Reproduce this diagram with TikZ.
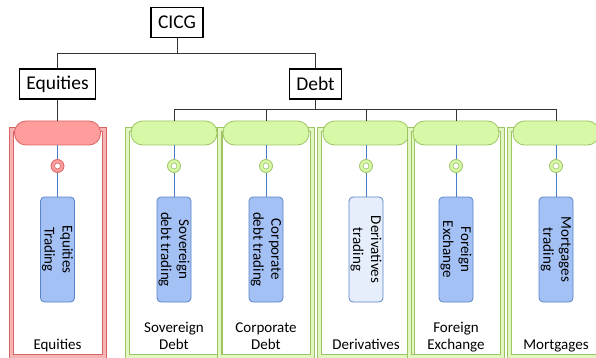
\documentclass[tikz,border=0pt]{standalone}
\usepackage{fontspec}
\setmainfont{Carlito}

\definecolor{redPill}{HTML}{FF9C9C}
\definecolor{redLine}{HTML}{D96464}
\definecolor{redFill}{HTML}{F6B4B4}
\definecolor{greenPill}{HTML}{D7F8A6}
\definecolor{greenLine}{HTML}{9DC463}
\definecolor{greenFill}{HTML}{E1F6C0}
\definecolor{tradeBlue}{HTML}{A4C1F5}
\definecolor{tradePale}{HTML}{E6EEFB}
\definecolor{tradeLine}{HTML}{5A83C8}
\definecolor{feedBlue}{HTML}{4A7CC4}

\begin{document}
\begin{tikzpicture}[x=1pt,y=-1pt,
  topbox/.style={draw, line width=1.4pt, fill=white, inner xsep=7pt,
    minimum height=30pt, font=\fontsize{19.5}{22}\selectfont},
  wire/.style={line width=.8pt, black!80},
  colframe/.style={line width=1pt, double distance=3pt},
  pill/.style={draw, line width=.8pt, rounded corners=11.5pt,
    minimum width=86pt, minimum height=24pt, inner sep=0pt},
  ring/.style={circle, draw, line width=.8pt, minimum size=13pt, inner sep=0pt},
  hole/.style={circle, draw, line width=.6pt, fill=white, minimum size=6pt, inner sep=0pt},
  feed/.style={line width=.7pt, feedBlue},
  tradebox/.style={draw=tradeLine, line width=.8pt, rounded corners=4pt, rotate=-90,
    minimum width=105pt, minimum height=34pt, inner sep=0pt, align=center,
    font=\fontsize{15}{18}\selectfont},
  lab/.style={anchor=base, align=center, inner sep=0pt,
    font=\fontsize{15}{17}\selectfont}]

\useasboundingbox (0,0) rectangle (596,358);

% top of the tree
\node[topbox] (cicg) at (177,22.5) {CICG};
\node[topbox] (equ) at (57.5,84) {Equities};
\node[topbox] (debt) at (315.5,84) {Debt};

\coordinate (topbus) at (177,53);
\coordinate (debtbus) at (315.5,109);
\draw[wire] (cicg.south) -- (topbus) -| (equ.north);
\draw[wire] (topbus) -| (debt.north);

% one column per desk
\foreach \n/\cx/\kind/\boxfill/\boxtext/\bottom in {
  equ/57.5/red/tradeBlue/{Equities\\Trading}/Equities,
  sov/174/green/tradeBlue/{Sovereign\\debt trading}/{Sovereign\\Debt},
  corp/266/green/tradeBlue/{Corporate\\debt trading}/{Corporate\\Debt},
  der/366/green/tradePale/{Derivatives\\trading}/Derivatives,
  fx/456/green/tradeBlue/{Foreign\\Exchange}/{Foreign\\Exchange},
  mort/556/green/tradeBlue/{Mortgages\\trading}/Mortgages}{
  \draw[colframe, draw=\kind Line, double=\kind Fill] (\cx-46.5,130) rectangle (\cx+46.5,356);
  \node[pill, fill=\kind Pill, draw=\kind Line] (p\n) at (\cx,133) {};
  \node[tradebox, fill=\boxfill] (t\n) at (\cx,249.5) {\boxtext};
  \draw[feed] (p\n.south) -- (t\n.west);
  \node[ring, fill=\kind Pill, draw=\kind Line] (r\n) at (\cx,166) {};
  \node[hole, draw=\kind Line] (h\n) at (r\n) {};
  \node[lab] (l\n) at (\cx,349) {\bottom};
}

\draw[wire] (equ.south) -- (pequ.north);
\draw[wire] (debt.south) -- (debtbus);
\foreach \n in {sov,corp,der,fx,mort}
  \draw[wire] (debtbus) -| (p\n.north);

\end{tikzpicture}
\end{document}
